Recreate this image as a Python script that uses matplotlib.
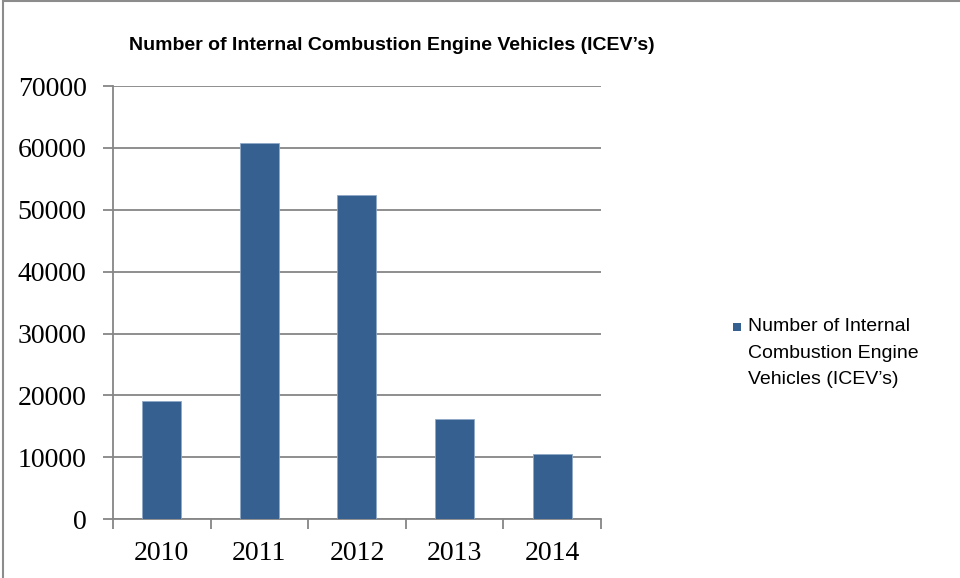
import numpy as np
import matplotlib.pyplot as plt
from matplotlib.patches import Rectangle

# data
years = ["2010", "2011", "2012", "2013", "2014"]
icev = [19150, 60750, 52450, 16100, 10550]
series_name = "Number of Internal\nCombustion Engine\nVehicles (ICEV\u2019s)"
title = "Number of Internal Combustion Engine Vehicles (ICEV\u2019s)"

bar_col = "#36608f"
grid_col = "#868686"

fig = plt.figure(figsize=(9.6, 5.78), dpi=100)
ax = fig.add_axes([0.1177, 0.102, 0.5083, 0.749])

x = np.arange(len(years))
bars = ax.bar(x, icev, width=0.4, color=bar_col, edgecolor="#8ea8c8", linewidth=0.6,
              zorder=3)

ax.set_xlim(-0.5, len(years) - 0.5)
ax.set_ylim(0, 70000)
ax.set_yticks(np.arange(0, 70001, 10000))
ax.set_xticks(x)
ax.set_xticklabels(years)
ax.set_xticks(np.arange(-0.5, len(years)), minor=True)

ax.grid(axis="y", color=grid_col, linewidth=1.3, zorder=0)
for s in ["top", "right"]:
    ax.spines[s].set_visible(False)
for s in ["left", "bottom"]:
    ax.spines[s].set_color(grid_col)
    ax.spines[s].set_linewidth(1.3)

ax.tick_params(axis="y", length=7, color=grid_col, width=1.3, labelsize=20, pad=12)
ax.tick_params(axis="x", which="major", length=0, labelsize=20, pad=16)
ax.tick_params(axis="x", which="minor", length=7, color=grid_col, width=1.3)
for lab in ax.get_xticklabels() + ax.get_yticklabels():
    lab.set_fontfamily("Liberation Serif")

fig.text(0.408, 0.921, title, ha="center", va="center", fontsize=14,
         fontweight="bold", family="Liberation Sans")

# legend: key square beside the first line of the label
fig.patches.append(Rectangle((733 / 960, 1 - 331 / 578), 8 / 960, 8 / 578,
                             transform=fig.transFigure, facecolor=bar_col,
                             edgecolor="none"))
fig.text(748 / 960, 1 - 318 / 578, series_name, ha="left", va="top",
         fontsize=14, family="Liberation Sans", linespacing=1.75)

# outer chart border
fig.patches.append(Rectangle((3 / 960, -0.01), 1.0, 1 - 1 / 578 + 0.01,
                             transform=fig.transFigure, fill=False,
                             edgecolor="#8c8c8c", linewidth=1.5))

fig.savefig("out.png", dpi=100)
